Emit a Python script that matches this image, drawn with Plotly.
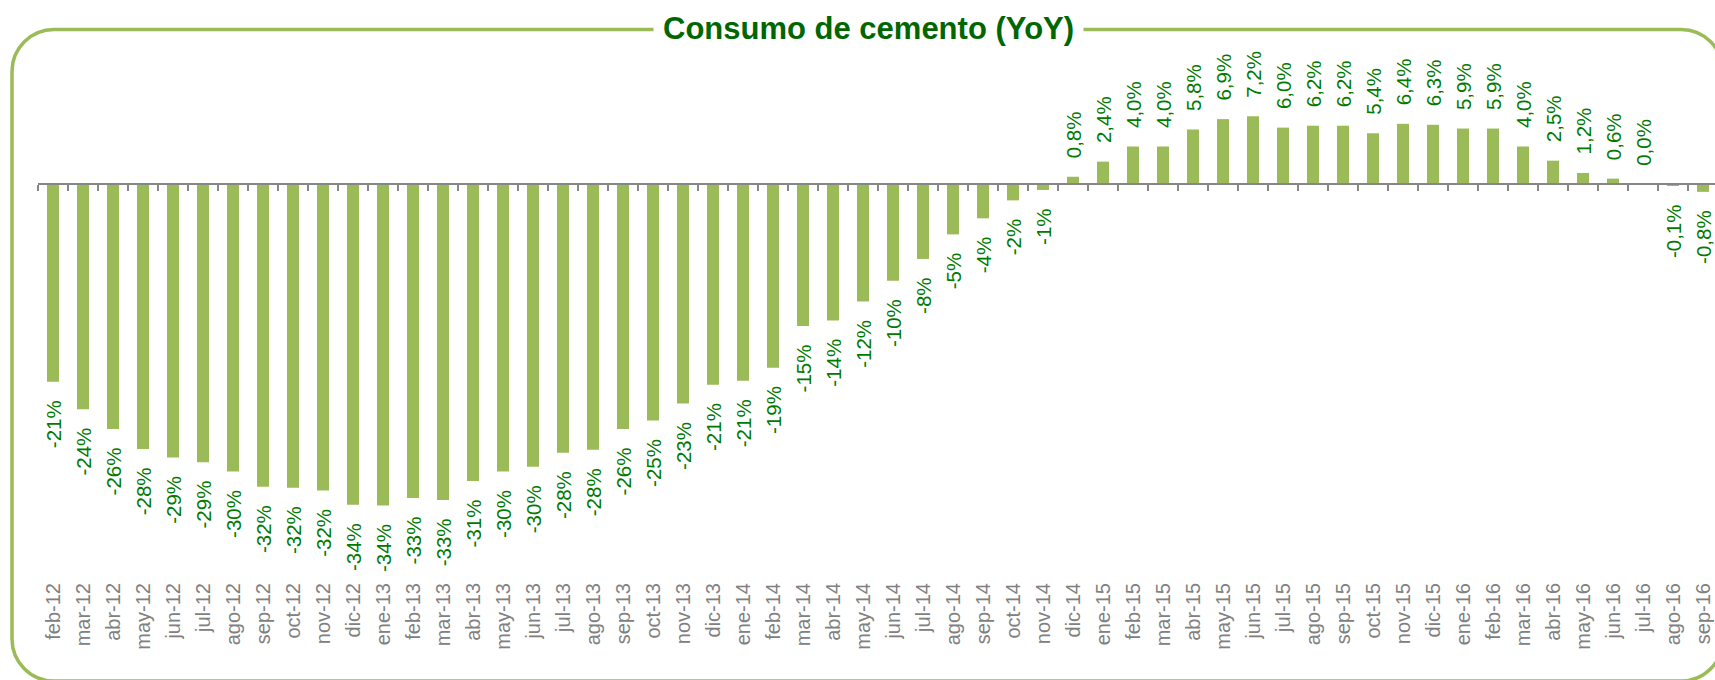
import plotly.graph_objects as go

# ---------------- data ----------------
months = ["feb-12", "mar-12", "abr-12", "may-12", "jun-12", "jul-12", "ago-12", "sep-12",
          "oct-12", "nov-12", "dic-12", "ene-13", "feb-13", "mar-13", "abr-13", "may-13",
          "jun-13", "jul-13", "ago-13", "sep-13", "oct-13", "nov-13", "dic-13", "ene-14",
          "feb-14", "mar-14", "abr-14", "may-14", "jun-14", "jul-14", "ago-14", "sep-14",
          "oct-14", "nov-14", "dic-14", "ene-15", "feb-15", "mar-15", "abr-15", "may-15",
          "jun-15", "jul-15", "ago-15", "sep-15", "oct-15", "nov-15", "dic-15", "ene-16",
          "feb-16", "mar-16", "abr-16", "may-16", "jun-16", "jul-16", "ago-16", "sep-16"]

yoy = [-20.9, -23.8, -25.9, -28.0, -28.9, -29.4, -30.4, -32.0,
       -32.1, -32.4, -33.9, -34.0, -33.2, -33.4, -31.4, -30.4,
       -29.9, -28.4, -28.1, -25.9, -25.0, -23.2, -21.2, -20.8,
       -19.4, -15.0, -14.4, -12.4, -10.2, -7.9, -5.3, -3.6,
       -1.7, -0.6, 0.8, 2.4, 4.0, 4.0, 5.8, 6.9,
       7.2, 6.0, 6.2, 6.2, 5.4, 6.4, 6.3, 5.9,
       5.9, 4.0, 2.5, 1.2, 0.6, 0.0, -0.1, -0.8]

labels = ["-21%", "-24%", "-26%", "-28%", "-29%", "-29%", "-30%", "-32%",
          "-32%", "-32%", "-34%", "-34%", "-33%", "-33%", "-31%", "-30%",
          "-30%", "-28%", "-28%", "-26%", "-25%", "-23%", "-21%", "-21%",
          "-19%", "-15%", "-14%", "-12%", "-10%", "-8%", "-5%", "-4%",
          "-2%", "-1%", "0,8%", "2,4%", "4,0%", "4,0%", "5,8%", "6,9%",
          "7,2%", "6,0%", "6,2%", "6,2%", "5,4%", "6,4%", "6,3%", "5,9%",
          "5,9%", "4,0%", "2,5%", "1,2%", "0,6%", "0,0%", "-0,1%", "-0,8%"]

title_text = "Consumo de cemento (YoY)"

# ---------------- styling / layout constants ----------------
W, H = 1715, 680
ML, MR, MT, MB = 38, 0, 40, 102
Y_RANGE = [-41.66, 15.27]
GREEN_BAR = "#9BBB59"
GREEN_TXT = "#007A00"
GREEN_TITLE = "#006600"
GRAY = "#868686"
FONT = "Liberation Sans, Arial, sans-serif"


def px_x(px):
    return (px - ML) / (W - ML - MR)


def px_y(py):
    return (H - MB - py) / (H - MT - MB)


PAD = "\u00a0\u00a0\u2009"
bar_text = [(PAD + t) if v >= 0 else (t + PAD) for v, t in zip(yoy, labels)]

fig = go.Figure()
fig.add_trace(go.Bar(
    x=months, y=yoy, text=bar_text,
    textposition="outside", textangle=-90, constraintext="none", cliponaxis=False,
    textfont=dict(family=FONT, size=20.5, color=GREEN_TXT),
    marker=dict(color=GREEN_BAR, line=dict(width=0)),
    width=0.4, hoverinfo="x+y", showlegend=False,
))
# invisible helper trace so the zero-line axis shares the categories
fig.add_trace(go.Scatter(
    x=months, y=[0] * len(months), xaxis="x2", mode="markers",
    marker=dict(opacity=0), hoverinfo="skip", showlegend=False,
))

zero_pos = (0 - Y_RANGE[0]) / (Y_RANGE[1] - Y_RANGE[0])
x_range = [-0.5, 55.4]

# rounded border (pixel geometry converted to paper coordinates)
x0, x1, y0, y1, r = 12, 1723, 29.5, 681, 42
k = 0.5523 * r
pts = [
    ("M", [(x0 + r, y0)]),
    ("L", [(x1 - r, y0)]),
    ("C", [(x1 - r + k, y0), (x1, y0 + r - k), (x1, y0 + r)]),
    ("L", [(x1, y1 - r)]),
    ("C", [(x1, y1 - r + k), (x1 - r + k, y1), (x1 - r, y1)]),
    ("L", [(x0 + r, y1)]),
    ("C", [(x0 + r - k, y1), (x0, y1 - r + k), (x0, y1 - r)]),
    ("L", [(x0, y0 + r)]),
    ("C", [(x0, y0 + r - k), (x0 + r - k, y0), (x0 + r, y0)]),
]
path = ""
for cmd, coords in pts:
    path += cmd + " " + " ".join(f"{px_x(a):.5f},{px_y(b):.5f}" for a, b in coords) + " "
path += "Z"

fig.update_layout(
    width=W, height=H,
    margin=dict(l=ML, r=MR, t=MT, b=MB, pad=0),
    paper_bgcolor="white", plot_bgcolor="white",
    bargap=0.6,
    xaxis=dict(
        type="category", categoryorder="array", categoryarray=months,
        range=x_range, tickangle=-90, showline=False, ticks="", showgrid=False,
        tickfont=dict(family=FONT, size=20, color="#808080"), zeroline=False,
    ),
    xaxis2=dict(
        type="category", categoryorder="array", categoryarray=months,
        overlaying="x", anchor="free", position=zero_pos, range=x_range,
        showticklabels=False, showline=True, linecolor=GRAY, linewidth=2,
        ticks="outside", ticklen=6, tickwidth=1.5, tickcolor=GRAY,
        tickson="boundaries", showgrid=False, zeroline=False,
    ),
    yaxis=dict(range=Y_RANGE, visible=False, showgrid=False, zeroline=False),
    shapes=[dict(type="path", path=path, xref="paper", yref="paper",
                 line=dict(color=GREEN_BAR, width=3.5), layer="below")],
    annotations=[dict(
        text=f"<b>{title_text}</b>", x=px_x(868), y=px_y(28.5), xref="paper", yref="paper",
        showarrow=False, xanchor="center", yanchor="middle",
        font=dict(family=FONT, size=31, color=GREEN_TITLE),
        bgcolor="white", borderpad=9,
    )],
)

fig.write_html("out.html")
